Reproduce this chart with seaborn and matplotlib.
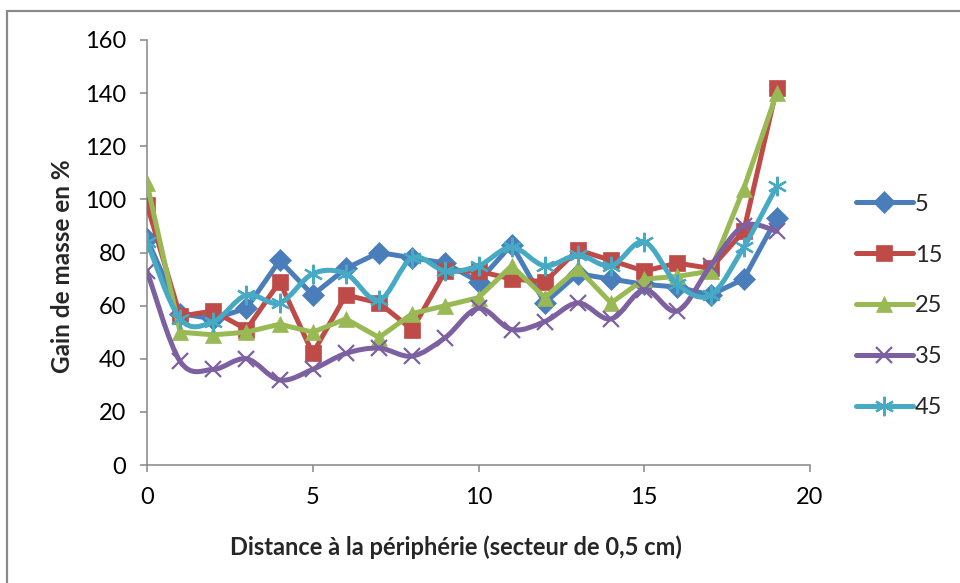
import numpy as np
import pandas as pd
import matplotlib
matplotlib.use('Agg')
import matplotlib.pyplot as plt
from matplotlib.lines import Line2D
from matplotlib.patches import PathPatch, Rectangle
from matplotlib.path import Path
import seaborn as sns

# Données
distance = list(range(20))
series_names = ['5', '15', '25', '35', '45']
gain_5 = [85, 57, 55, 59, 77, 64, 74, 80, 78, 76, 69, 83, 61, 72, 70, 68, 67, 64, 70, 93]
gain_15 = [98, 56, 58, 51, 69, 42, 64, 61, 51, 73, 73, 70, 69, 81, 77, 73, 76, 74, 88, 142]
gain_25 = [106, 50, 49, 50, 53, 50, 55, 48, 57, 60, 63, 75, 63, 74, 61, 70, 71, 73, 104, 140]
gain_35 = [73, 39, 36, 40, 32, 36, 42, 44, 41, 48, 59, 51, 54, 61, 55, 66, 58, 75, 90, 88]
gain_45 = [84, 55, 54, 64, 61, 72, 72, 62, 78, 73, 75, 82, 75, 79, 75, 84, 68, 64, 82, 105]

colors = ['#4A7EBB', '#BE4B48', '#98B954', '#7D60A0', '#46AAC5']
markers = ['D', 's', '^', 'x', (6, 2, 0)]
marker_sizes = [11, 11, 12, 12, 14]
smoothed = [False, False, False, True, True]

df = pd.DataFrame({
    'distance': distance * 5,
    'gain': gain_5 + gain_15 + gain_25 + gain_35 + gain_45,
    'serie': sum([[s] * len(distance) for s in series_names], []),
})


def smooth_path(xs, ys):
    """Courbe lissée façon Excel (Bézier cubique passant par les points)."""
    pts = np.column_stack([xs, ys]).astype(float)
    n = len(pts)
    verts = [pts[0]]
    codes = [Path.MOVETO]
    for i in range(n - 1):
        p0 = pts[max(i - 1, 0)]
        p1 = pts[i]
        p2 = pts[i + 1]
        p3 = pts[min(i + 2, n - 1)]
        verts += [p1 + (p2 - p0) / 6, p2 - (p3 - p1) / 6, p2]
        codes += [Path.CURVE4] * 3
    return Path(verts, codes)


sns.set_theme(style='white')
plt.rcParams['font.family'] = ['Lato', 'DejaVu Sans']

fig = plt.figure(figsize=(9.6, 5.83), dpi=100)
ax = fig.add_axes([147 / 960, 118 / 583, 663 / 960, 425 / 583])

lw = 3.6
handles = []
for i, name in enumerate(series_names):
    sub = df[df['serie'] == name]
    is_x = markers[i] in ('x', (6, 2, 0))
    sns.lineplot(
        data=sub, x='distance', y='gain', ax=ax,
        color=colors[i], marker=markers[i], markersize=marker_sizes[i],
        markeredgecolor=colors[i], markeredgewidth=1.6 if is_x else 0.5,
        linewidth=0 if smoothed[i] else lw, zorder=3 + i, legend=False,
    )
    if smoothed[i]:
        patch = PathPatch(smooth_path(sub['distance'], sub['gain']), fill=False,
                          edgecolor=colors[i], lw=lw, capstyle='round',
                          joinstyle='round', zorder=3 + i)
        ax.add_patch(patch)
    handles.append(Line2D([], [], color=colors[i], lw=lw, marker=markers[i],
                          markersize=marker_sizes[i], markeredgecolor=colors[i],
                          markeredgewidth=1.6 if is_x else 0.5,
                          solid_capstyle='round'))

ax.set_xlim(0, 20)
ax.set_ylim(0, 160)
ax.set_xticks(range(0, 21, 5))
ax.set_yticks(range(0, 161, 20))
ax.set_xlabel('')
ax.set_ylabel('')
for side in ['top', 'right']:
    ax.spines[side].set_visible(False)
for side in ['left', 'bottom']:
    ax.spines[side].set_color('#868686')
    ax.spines[side].set_linewidth(1.1)
ax.tick_params(axis='both', which='major', length=5, width=1.1, color='#868686',
               labelsize=17, labelcolor='black', direction='out',
               bottom=True, left=True)
ax.tick_params(axis='y', pad=10)
ax.tick_params(axis='x', pad=11)

fig.text(456 / 960, 1 - 547 / 583, 'Distance à la périphérie (secteur de 0,5 cm)',
         ha='center', va='center', fontsize=17, fontweight='bold')
fig.text(62 / 960, 1 - 266 / 583, 'Gain de masse en %', ha='center', va='center',
         rotation=90, fontsize=17.5, fontweight='bold')

ax.legend(handles, series_names, loc='center left',
          bbox_to_anchor=(856 / 960, 1 - 306 / 583), bbox_transform=fig.transFigure,
          frameon=False, fontsize=17, handlelength=2.4, handletextpad=0.1,
          labelspacing=1.27, borderaxespad=0, borderpad=0)

# Cadre de la zone de graphique
fig.patches.append(Rectangle((7 / 960, -0.1), 2, 1.1 - 11 / 583, fill=False,
                             edgecolor='#898989', lw=1.6,
                             transform=fig.transFigure, figure=fig))

plt.savefig('out.png', dpi=100)
